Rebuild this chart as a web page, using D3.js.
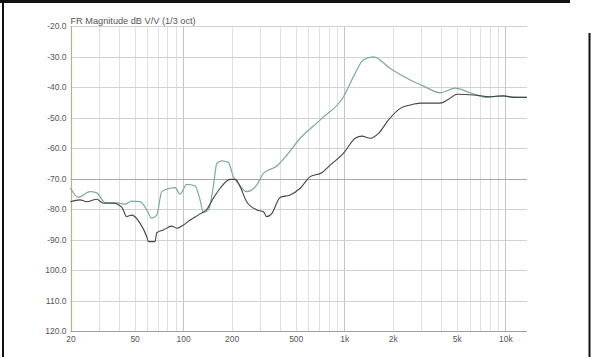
<!DOCTYPE html>
<html>
<head>
<meta charset="utf-8">
<script src="https://cdn.jsdelivr.net/npm/d3@7"></script>
<style>
  html, body { margin: 0; padding: 0; background: #fff; }
  svg { display: block; }
  text { font-family: "Liberation Sans", Arial, sans-serif; }
</style>
</head>
<body>
<svg id="chart" width="592" height="357"></svg>
<script>
// ---- data ----
const chartTitle = "FR Magnitude dB V/V (1/3 oct)";
const freqDomain = [20, 13630];
const dbDomain = [-120, -20];

const xTickValues = [20, 50, 100, 200, 500, 1000, 2000, 5000, 10000];
const xTickLabels = ["20", "50", "100", "200", "500", "1k", "2k", "5k", "10k"];
const yTickValues = [-20, -30, -40, -50, -60, -70, -80, -90, -100, -110, -120];
const yTickLabels = ["-20.0", "-30.0", "-40.0", "-50.0", "-60.0", "-70.0", "-80.0", "-90.0", "100.0", "110.0", "120.0"];
const gridDecades = [10, 100, 1000, 10000];
const gridMultipliers = [1, 2, 3, 4, 5, 6, 7, 8, 9];
const majorGridFreqs = [100, 1000, 10000];

// teal (upper) curve
const tealFreq = [20, 22.4, 26.4, 29.1, 32.8, 37.8, 43.6, 48, 54.1, 59.5, 63.9, 68.6, 73.7, 83, 89.1, 95.7, 105.4, 118.6, 127.4, 133.6, 143.6, 154, 162, 174, 191, 205, 220, 248, 287, 315, 382, 441, 533, 644, 726, 990, 1142, 1317, 1520, 1930, 2570, 3106, 3944, 4888, 6060, 7692, 9310, 10740, 13630];
const tealDb = [-73.2, -76.2, -74.3, -74.7, -77.9, -77.9, -78.4, -77.4, -77.6, -80.3, -83.0, -82.0, -74.3, -73.2, -73.0, -75.1, -71.9, -72.4, -77.0, -81.2, -80.3, -72.7, -65.0, -64.2, -64.7, -69.4, -71.6, -74.3, -72.1, -68.3, -65.9, -62.3, -56.8, -52.8, -50.3, -43.2, -36.6, -31.1, -30.1, -33.9, -37.7, -39.7, -41.9, -40.4, -41.9, -43.4, -42.9, -43.2, -43.4];

// dark (lower) curve
const darkFreq = [20, 22.9, 25.2, 29.1, 32.0, 36.9, 41.6, 44.7, 48, 54.1, 59.5, 60.9, 67.0, 68.6, 75.4, 85.0, 91.4, 98.1, 110.5, 127.4, 140.3, 154, 169.7, 195.8, 210.5, 226, 248, 287, 315, 331, 355.6, 400, 461.5, 533, 615, 726, 799, 990, 1170, 1288, 1450, 1633, 1883, 2226, 2570, 2965, 3944, 4444, 5012, 6350, 8063, 9754, 11250, 13630];
const darkDb = [-77.6, -77.0, -77.6, -76.8, -78.1, -78.1, -79.4, -82.5, -82.0, -84.7, -89.1, -90.7, -90.7, -87.8, -86.9, -85.6, -86.3, -85.6, -83.6, -81.6, -80.1, -76.5, -73.2, -70.3, -70.3, -72.7, -77.6, -80.3, -80.9, -82.5, -81.4, -76.2, -75.4, -73.2, -69.4, -68.1, -66.1, -61.7, -56.8, -56.1, -56.8, -55.2, -50.8, -47.0, -45.9, -45.3, -45.3, -44.0, -42.4, -42.6, -43.2, -42.9, -43.4, -43.4];

// ---- drawing ----
const svg = d3.select("#chart");
const W = 592, H = 357;
const plot = { left: 70.5, right: 527, top: 26, bottom: 331 };

const x = d3.scaleLog().domain(freqDomain).range([plot.left, plot.right]);
const y = d3.scaleLinear().domain(dbDomain).range([plot.bottom, plot.top]);

// frame
svg.append("rect").attr("x", 0).attr("y", 0).attr("width", W).attr("height", H).attr("fill", "#fff");
svg.append("line").attr("x1", 3).attr("x2", 3).attr("y1", 0).attr("y2", H).attr("stroke", "#111").attr("stroke-width", 2);
svg.append("line").attr("x1", 0).attr("x2", 570).attr("y1", 1.5).attr("y2", 1.5).attr("stroke", "#111").attr("stroke-width", 3);
svg.append("line").attr("x1", 589.5).attr("x2", 589.5).attr("y1", 33).attr("y2", H).attr("stroke", "#111").attr("stroke-width", 2);

// vertical grid
const gridFreqs = [];
gridDecades.forEach(dec => gridMultipliers.forEach(m => {
  const f = dec * m;
  if (f > freqDomain[0] && f <= freqDomain[1]) gridFreqs.push(f);
}));
svg.append("g").selectAll("line").data(gridFreqs).join("line")
  .attr("x1", d => Math.round(x(d)) + 0.5).attr("x2", d => Math.round(x(d)) + 0.5)
  .attr("y1", plot.top).attr("y2", plot.bottom)
  .attr("stroke", d => majorGridFreqs.includes(d) ? "#c4c4c4" : "#e0e0e0")
  .attr("stroke-width", 1);

// horizontal grid
svg.append("g").selectAll("line").data(yTickValues.filter(v => v !== dbDomain[0])).join("line")
  .attr("x1", plot.left).attr("x2", plot.right)
  .attr("y1", d => Math.round(y(d)) + 0.5).attr("y2", d => Math.round(y(d)) + 0.5)
  .attr("stroke", d => d === -70 ? "#a8a8a8" : "#d2d2d2")
  .attr("stroke-width", 1);

// axis lines
svg.append("line").attr("x1", plot.left).attr("x2", plot.right)
  .attr("y1", Math.round(plot.bottom) + 0.5).attr("y2", Math.round(plot.bottom) + 0.5)
  .attr("stroke", "#a0a0a0");
svg.append("line").attr("x1", Math.round(plot.left) + 0.5).attr("x2", Math.round(plot.left) + 0.5)
  .attr("y1", plot.top).attr("y2", plot.bottom + 0.5)
  .attr("stroke", "#b4b48c").attr("stroke-width", 1.2);

// axes (labels only)
const yAxis = d3.axisLeft(y).tickValues(yTickValues)
  .tickFormat((d, i) => yTickLabels[i]).tickSize(0).tickPadding(4);
const gy = svg.append("g").attr("transform", `translate(${plot.left},0)`).call(yAxis);
gy.select(".domain").remove();
gy.selectAll("text").attr("fill", "#555").style("font-size", "8.5px").style("font-family", "'Liberation Sans', Arial, sans-serif");

const xAxis = d3.axisBottom(x).tickValues(xTickValues)
  .tickFormat((d, i) => xTickLabels[i]).tickSize(0).tickPadding(5);
const gx = svg.append("g").attr("transform", `translate(0,${plot.bottom})`).call(xAxis);
gx.select(".domain").remove();
gx.selectAll("text").attr("fill", "#555").style("font-size", "8.5px").style("font-family", "'Liberation Sans', Arial, sans-serif");

// title
svg.append("text").attr("x", plot.left).attr("y", 23.5)
  .attr("fill", "#555").style("font-size", "9.2px")
  .text(chartTitle);

// curves
const line = d3.line().x(d => x(d[0])).y(d => y(d[1])).curve(d3.curveMonotoneX);
const tealData = tealFreq.map((f, i) => [f, tealDb[i]]);
const darkData = darkFreq.map((f, i) => [f, darkDb[i]]);

svg.append("path").datum(tealData).attr("d", line)
  .attr("fill", "none").attr("stroke", "#7fa6a6").attr("stroke-width", 1.2);
svg.append("path").datum(darkData).attr("d", line)
  .attr("fill", "none").attr("stroke", "#444").attr("stroke-width", 1.1);
</script>
</body>
</html>
